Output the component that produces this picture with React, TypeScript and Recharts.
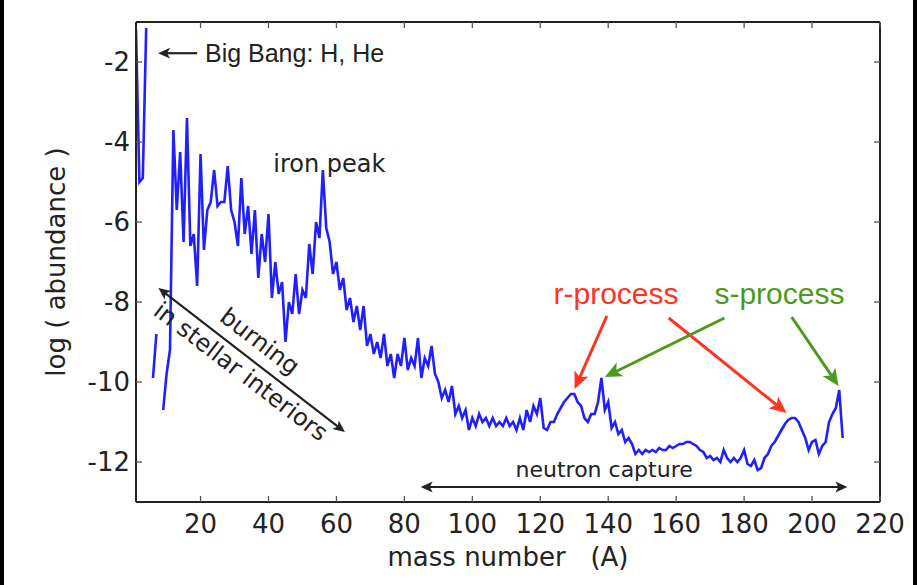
import { LineChart, Line, XAxis, YAxis, ReferenceLine, ReferenceDot } from "recharts";

// log10 abundance by mass number A = 1, 2, 3, ... (null = no stable nucleus)
const logAbundance: (number | null)[] = [
	-1.2, -5.0, -4.9, -1.15, null, -9.9, -8.8, null, -10.7, -9.8,
	-9.2, -3.7, -5.7, -4.25, -6.5, -3.4, -6.6, -6.3, -7.6, -4.3,
	-6.7, -5.7, -5.5, -4.7, -5.6, -5.5, -5.5, -4.6, -5.7, -6.0,
	-6.6, -4.9, -6.3, -5.6, -6.8, -5.7, -7.4, -6.3, -7.0, -5.8,
	-7.9, -7.0, -7.8, -7.5, -9.0, -8.0, -8.3, -7.3, -8.3, -7.7,
	-7.9, -6.55, -7.3, -6.0, -6.4, -4.7, -6.15, -6.5, -7.3, -7.0,
	-7.7, -7.4, -8.2, -7.9, -8.5, -8.1, -8.7, -8.1, -9.1, -8.8,
	-9.3, -9.0, -9.4, -8.8, -9.6, -9.3, -9.9, -9.3, -9.6, -8.9,
	-9.7, -9.4, -9.6, -8.9, -9.9, -9.4, -9.6, -9.1, -9.8, -10.0,
	-10.4, -10.2, -10.5, -10.1, -10.8, -10.6, -10.9, -10.7, -11.2, -10.9,
	-11.1, -10.8, -11.0, -10.9, -11.1, -10.9, -11.1, -11.0, -11.1, -10.9,
	-11.1, -11.0, -11.2, -10.9, -11.2, -10.7, -11.0, -10.6, -10.8, -10.4,
	-11.15, -11.2, -11.0, -11.0, -10.8, -10.65, -10.5, -10.4, -10.3, -10.3,
	-10.5, -10.6, -10.9, -11.0, -10.8, -10.8, -10.5, -9.9, -10.7, -10.5,
	-11.15, -11.0, -11.3, -11.2, -11.5, -11.4, -11.55, -11.8, -11.7, -11.8,
	-11.7, -11.75, -11.7, -11.75, -11.65, -11.7, -11.7, -11.6, -11.65, -11.6,
	-11.55, -11.55, -11.5, -11.5, -11.55, -11.6, -11.7, -11.75, -11.9, -11.85,
	-11.95, -11.9, -12.0, -11.7, -11.9, -12.0, -11.9, -12.0, -11.9, -11.7,
	-12.05, -12.1, -11.95, -12.2, -12.15, -11.9, -11.8, -11.6, -11.5, -11.35,
	-11.2, -11.05, -10.95, -10.9, -10.9, -11.0, -11.2, -11.4, -11.7, -11.5,
	-11.45, -11.8, -11.6, -11.5, -11.0, -10.8, -10.65, -10.2, -11.4,
];
const massNumbers = logAbundance.map((_, i) => i + 1);

const xTicks = [20, 40, 60, 80, 100, 120, 140, 160, 180, 200, 220];
const yTicks = [-12, -10, -8, -6, -4, -2];

const rows = massNumbers.map((A, i) => ({ A, v: logAbundance[i] }));

const FONT = "DejaVu Sans";
const SANS = "Liberation Sans";
const INK = "#222";
const RED = "#ff3322";
const GREEN = "#4c9a1c";

interface Note {
	a: number;
	v: number;
	text: string;
	color: string;
	size: number;
	family: string;
	anchor: "start" | "middle" | "end";
	angle?: number;
	dy?: string;
}

const notes: Note[] = [
	{ a: 21.3, v: -1.78, text: "Big Bang: H, He", color: INK, size: 25, family: SANS, anchor: "start", dy: "0.36em" },
	{ a: 57.9, v: -4.75, text: "iron peak", color: INK, size: 24, family: FONT, anchor: "middle" },
	{ a: 37.5, v: -8.98, text: "burning", color: INK, size: 24, family: FONT, anchor: "middle", angle: 37.4, dy: "0.35em" },
	{ a: 31.9, v: -9.73, text: "in stellar interiors", color: INK, size: 24, family: FONT, anchor: "middle", angle: 37.4, dy: "0.35em" },
	{ a: 142.3, v: -8.05, text: "r-process", color: RED, size: 30, family: SANS, anchor: "middle" },
	{ a: 190.4, v: -8.05, text: "s-process", color: GREEN, size: 30, family: SANS, anchor: "middle" },
	{ a: 138.8, v: -12.375, text: "neutron capture", color: INK, size: 22, family: FONT, anchor: "middle" },
];

interface Arrow {
	from: [number, number];
	to: [number, number];
	color: string;
	width: number;
	head: number;
	both?: boolean;
}

const arrows: Arrow[] = [
	{ from: [19.0, -1.78], to: [7.5, -1.78], color: INK, width: 2.2, head: 12 },
	{ from: [7.6, -7.65], to: [62.5, -11.25], color: INK, width: 2.2, head: 12, both: true },
	{ from: [84.8, -12.625], to: [210.4, -12.625], color: INK, width: 2.2, head: 12, both: true },
	{ from: [139.6, -8.35], to: [130.1, -10.175], color: RED, width: 3, head: 17 },
	{ from: [157.8, -8.4], to: [192.5, -10.775], color: RED, width: 3, head: 17 },
	{ from: [174.2, -8.4], to: [139.0, -9.875], color: GREEN, width: 3, head: 17 },
	{ from: [194.0, -8.375], to: [207.8, -10.1], color: GREEN, width: 3, head: 17 },
];

function headPoints(tx: number, ty: number, ux: number, uy: number, len: number) {
	const w = len * 0.45;
	const bx = tx - ux * len;
	const by = ty - uy * len;
	const nx = -uy;
	const ny = ux;
	const mx = tx - ux * len * 0.75;
	const my = ty - uy * len * 0.75;
	return `${tx},${ty} ${bx + nx * w},${by + ny * w} ${mx},${my} ${bx - nx * w},${by - ny * w}`;
}

const arrowShape = (arrow: Arrow) => (p: any) => {
	const { x1, y1, x2, y2 } = p;
	const dx = x2 - x1;
	const dy = y2 - y1;
	const len = Math.sqrt(dx * dx + dy * dy) || 1;
	const ux = dx / len;
	const uy = dy / len;
	const cut = arrow.head * 0.7;
	const sx = arrow.both ? x1 + ux * cut : x1;
	const sy = arrow.both ? y1 + uy * cut : y1;
	return (
		<g>
			<line
				x1={sx}
				y1={sy}
				x2={x2 - ux * cut}
				y2={y2 - uy * cut}
				stroke={arrow.color}
				strokeWidth={arrow.width}
			/>
			<polygon points={headPoints(x2, y2, ux, uy, arrow.head)} fill={arrow.color} />
			{arrow.both && (
				<polygon points={headPoints(x1, y1, -ux, -uy, arrow.head)} fill={arrow.color} />
			)}
		</g>
	);
};

const noteShape = (note: Note) => (p: any) => (
	<text
		x={p.cx}
		y={p.cy}
		dy={note.dy}
		textAnchor={note.anchor}
		fontFamily={note.family}
		fontSize={note.size}
		fill={note.color}
		transform={note.angle ? `rotate(${note.angle} ${p.cx} ${p.cy})` : undefined}
	>
		{note.text}
	</text>
);

const TICK = "#555";
const TICK_LEN = 6;
const frame = { stroke: INK, strokeWidth: 2 };

const BottomTick = (p: any) => (
	<g>
		<line x1={p.x} y1={p.y} x2={p.x} y2={p.y - TICK_LEN} stroke={TICK} strokeWidth={1.3} />
		<text x={p.x} y={p.y + 31} textAnchor="middle" fontFamily={FONT} fontSize={26} fill={INK}>
			{p.payload.value}
		</text>
	</g>
);

const TopTick = (p: any) => (
	<line x1={p.x} y1={p.y} x2={p.x} y2={p.y + TICK_LEN} stroke={TICK} strokeWidth={1.3} />
);

const LeftTick = (p: any) => (
	<g>
		<line x1={p.x} y1={p.y} x2={p.x + TICK_LEN} y2={p.y} stroke={TICK} strokeWidth={1.3} />
		<text x={p.x - 6} y={p.y} dy="0.36em" textAnchor="end" fontFamily={FONT} fontSize={26} fill={INK}>
			{p.payload.value}
		</text>
	</g>
);

const RightTick = (p: any) => (
	<line x1={p.x} y1={p.y} x2={p.x - TICK_LEN} y2={p.y} stroke={TICK} strokeWidth={1.3} />
);

const XLabel = (p: any) => {
	const vb = p.viewBox || { x: 136, y: 502, width: 744, height: 83 };
	return (
		<text
			x={vb.x + vb.width / 2}
			y={vb.y + 64}
			textAnchor="middle"
			fontFamily={FONT}
			fontSize={26}
			fill={INK}
		>
			mass number{"\u00a0\u00a0\u00a0"}(A)
		</text>
	);
};

const YLabel = (p: any) => {
	const vb = p.viewBox || { x: 0, y: 22, width: 136, height: 480 };
	const x = vb.x + 65;
	const y = vb.y + vb.height / 2;
	return (
		<text
			x={x}
			y={y}
			textAnchor="middle"
			fontFamily={FONT}
			fontSize={26}
			fill={INK}
			transform={`rotate(-90 ${x} ${y})`}
		>
			log ( abundance )
		</text>
	);
};

export default function App() {
	return (
		<div style={{ position: "relative", width: 917, height: 585, background: "#fff" }}>
			<style>{"body{margin:0;}"}</style>
			<LineChart
				width={917}
				height={585}
				data={rows}
				margin={{ top: 21, right: 36, bottom: 0, left: 0 }}
			>
				<XAxis
					dataKey="A"
					type="number"
					domain={[1, 220]}
					ticks={xTicks}
					allowDataOverflow
					height={83}
					tickSize={0}
					tickMargin={0}
					tickLine={false}
					tick={BottomTick}
					axisLine={frame}
					label={XLabel}
				/>
				<XAxis
					xAxisId="top"
					orientation="top"
					dataKey="A"
					type="number"
					domain={[1, 220]}
					ticks={xTicks}
					allowDataOverflow
					height={1}
					tickSize={0}
					tickMargin={0}
					tickLine={false}
					tick={TopTick}
					axisLine={frame}
				/>
				<YAxis
					type="number"
					domain={[-13, -1]}
					ticks={yTicks}
					allowDataOverflow
					width={136}
					tickSize={0}
					tickMargin={0}
					tickLine={false}
					tick={LeftTick}
					axisLine={frame}
					label={YLabel}
				/>
				<YAxis
					yAxisId="right"
					orientation="right"
					type="number"
					domain={[-13, -1]}
					ticks={yTicks}
					allowDataOverflow
					width={1}
					tickSize={0}
					tickMargin={0}
					tickLine={false}
					tick={RightTick}
					axisLine={frame}
				/>
				<Line
					dataKey="v"
					type="linear"
					stroke="#2020ff"
					strokeWidth={2.6}
					dot={false}
					connectNulls={false}
					isAnimationActive={false}
				/>
				{arrows.map((arrow, i) => (
					<ReferenceLine
						key={`arrow-${i}`}
						segment={[
							{ x: arrow.from[0], y: arrow.from[1] },
							{ x: arrow.to[0], y: arrow.to[1] },
						]}
						ifOverflow="visible"
						stroke={arrow.color}
						shape={arrowShape(arrow)}
					/>
				))}
				{notes.map((note) => (
					<ReferenceDot
						key={note.text}
						x={note.a}
						y={note.v}
						r={0}
						ifOverflow="visible"
						shape={noteShape(note)}
					/>
				))}
			</LineChart>
			<div style={{ position: "absolute", left: 0, top: 0, width: 4, height: 585, background: "#000" }} />
			<div style={{ position: "absolute", right: 0, top: 0, width: 4, height: 585, background: "#000" }} />
		</div>
	);
}
